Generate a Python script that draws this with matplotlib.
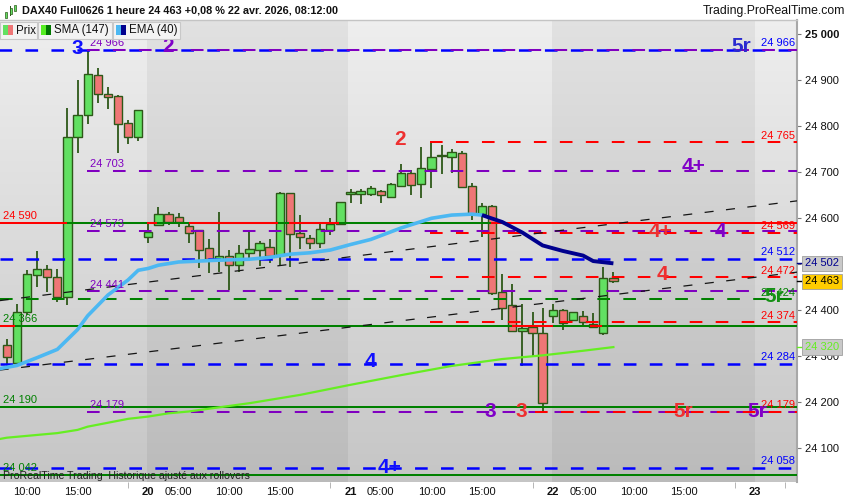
import numpy as np
import matplotlib.pyplot as plt
from matplotlib.patches import Rectangle
from matplotlib.transforms import blended_transform_factory

plt.rcParams['font.family'] = ['Liberation Sans', 'DejaVu Sans']
plt.rcParams['lines.scale_dashes'] = False

# DAX40 1h candles, 19 avr. 08:00 -> 22 avr. 08:00 (bar index 0..60)
opens = [24325, 24285, 24397, 24476, 24489, 24472, 24428, 24776, 24825, 24912, 24870, 24866, 24808, 24777,
         24559, 24585, 24609, 24602, 24583, 24574, 24535, 24509, 24518, 24498, 24525, 24531, 24538, 24520,
         24654, 24567, 24557, 24547, 24575, 24588,
         24652, 24652, 24652, 24659, 24647, 24671, 24698, 24674, 24708, 24735, 24733, 24743, 24670, 24609,
         24627, 24440, 24411, 24356, 24363, 24350,
         24388, 24401, 24379, 24388, 24363, 24351, 24471]
highs = [24337, 24414, 24488, 24529, 24498, 24489, 24839, 24901, 24966, 24926, 24885, 24868, 24814, 24836,
         24589, 24625, 24614, 24612, 24593, 24575, 24554, 24614, 24531, 24542, 24572, 24551, 24556, 24658,
         24656, 24607, 24564, 24593, 24601, 24635,
         24663, 24663, 24670, 24662, 24677, 24718, 24706, 24754, 24763, 24759, 24750, 24747, 24676, 24634,
         24629, 24479, 24457, 24413, 24397, 24404,
         24414, 24402, 24397, 24399, 24394, 24495, 24483]
lows = [24276, 24281, 24390, 24451, 24440, 24419, 24411, 24741, 24806, 24850, 24837, 24741, 24761, 24768,
        24547, 24585, 24585, 24582, 24547, 24491, 24480, 24484, 24444, 24484, 24509, 24496, 24502, 24498,
        24495, 24533, 24533, 24535, 24564, 24587,
        24634, 24630, 24648, 24634, 24647, 24670, 24651, 24645, 24665, 24696, 24699, 24666, 24596, 24560,
        24433, 24379, 24353, 24279, 24299, 24179,
        24372, 24357, 24378, 24363, 24361, 24346, 24460]
closes = [24299, 24397, 24478, 24489, 24472, 24428, 24776, 24825, 24914, 24870, 24863, 24806, 24776, 24835,
          24571, 24609, 24593, 24593, 24569, 24531, 24511, 24518, 24498, 24524, 24533, 24546, 24519, 24654,
          24565, 24559, 24547, 24576, 24587, 24635,
          24657, 24659, 24665, 24651, 24675, 24698, 24672, 24709, 24733, 24737, 24744, 24667, 24609, 24627,
          24438, 24404, 24354, 24361, 24350, 24199,
          24401, 24372, 24396, 24375, 24370, 24470, 24463]

# SMA(147) and EMA(40)
sma_bars = [-1, 0, 5, 7, 8, 12, 14, 16, 18, 24, 29, 34, 39, 44, 49, 53, 57, 60]
sma_vals = [24119, 24123, 24133, 24140, 24147, 24164, 24169, 24176, 24180, 24198, 24216, 24238, 24259,
            24279, 24294, 24302, 24312, 24320]
ema_bars = [-1, 0, 1, 3, 5, 7, 8, 10, 12, 13, 14, 15, 17, 21, 24, 26, 28, 30, 32, 34, 36, 39, 42, 44, 46,
            47, 49, 51, 53, 55, 57, 58, 60]
ema_vals = [24272, 24276, 24280, 24297, 24315, 24358, 24388, 24433, 24466, 24487, 24491, 24498, 24505,
            24509, 24511, 24515, 24522, 24525, 24531, 24543, 24554, 24579, 24600, 24607, 24609, 24607,
            24592, 24569, 24541, 24529, 24519, 24507, 24502]
ema_turn = 47

hour_ticks = [2, 7, 17, 22, 27, 37, 42, 47, 57, 62, 67]
hour_labels = ['10:00', '15:00', '05:00', '10:00', '15:00', '05:00', '10:00', '15:00', '05:00', '10:00', '15:00']
day_starts = [14, 34, 54, 74]
day_labels = ['20', '21', '22', '23']
minor_ticks = [12, 32, 52, 72, 77]
price_ticks = [24100, 24200, 24300, 24400, 24500, 24600, 24700, 24800, 24900, 25000]

# horizontal levels
lvl_price = [24966, 24966, 24765, 24703, 24590, 24590, 24573, 24569, 24512, 24472, 24441, 24424, 24374,
             24366, 24284, 24190, 24179, 24179, 24058, 24042]
lvl_color = ['blue', 'purple', 'red', 'purple', 'red', 'green', 'purple', 'red', 'blue', 'red', 'purple',
             'green', 'red', 'green', 'blue', 'green', 'purple', 'red', 'blue', 'green']
lvl_dashed = [True, True, True, True, False, False, True, True, True, True, True, True, True,
              False, True, False, True, True, True, False]
lvl_start = [-1.2, 7.94, 41.9, 7.94, -1, 6, 7.94, 41.9, -0.67, 41.9, 7.94, -0.67, 41.9,
             -1, -0.67, -1, 7.94, 52.2, -1.8, -1]
lvl_end = [80, 80, 80, 80, 80, 47.9, 80, 80, 80, 80, 80, 80, 80, 80, 80, 80, 80, 80, 80, 80]

red_seg_price = [24590, 24590, 24590, 24366, 24366, 24366]
red_seg_from = [13.9, 18.0, 27.9, -1, 50.0, 57.7]
red_seg_to = [14.9, 26.8, 32.9, 0.8, 54.0, 58.9]

# dashed trend channel
trend_bars = [-0.7, 78.2]
trend_up = [24421, 24638]
trend_low = [24270, 24483]

right_tag_price = [24966, 24765, 24569, 24512, 24472, 24424, 24374, 24284, 24179, 24058]
right_tag_color = ['blue', 'red', 'red', 'blue', 'red', 'green', 'red', 'blue', 'red', 'blue']
left_tag_price = [24590, 24366, 24190, 24042]
left_tag_color = ['red', 'green', 'green', 'green']
purple_tag_price = [24966, 24703, 24573, 24441, 24179]

wave_text = ['3', '2', '5r', '2', '4+', '4+', '4', '4', '5r', '4', '3', '3', '5r', '5r', '4+']
wave_bar = [7.0, 16.0, 72.6, 38.9, 67.9, 64.7, 70.6, 64.9, 75.9, 36.0, 47.8, 50.9, 66.9, 74.2, 37.9]
wave_price = [24969, 24974, 24974, 24772, 24713, 24572, 24572, 24477, 24429, 24288, 24181, 24181, 24181,
              24181, 24059]
wave_color = ['#1010ff', '#8000c8', '#2a2ad0', '#ee3030', '#8000c8', '#ee3030', '#8000c8', '#ee3030',
              '#159015', '#1010ff', '#8000c8', '#ee3030', '#ee3030', '#8000c8', '#1010ff']

last_ema = 24502
last_close = 24463
last_sma = 24320

COL = {'blue': '#0000ff', 'purple': '#8000c0', 'red': '#ff0000', 'green': '#008000'}
EDGE = '#2d5818'


def fmt(v):
    return f"{v:,}".replace(',', ' ')


def fx(px):
    return px / 850


def fy(py):
    return 1 - py / 500


fig = plt.figure(figsize=(8.5, 5), dpi=100)
ax = fig.add_axes([0, 18 / 500, 797 / 850, 462 / 500])
xmin, xmax = -0.67, 78.16
ymin, ymax = 24026.7, 25031.1

# background gradient + day bands
grad = np.linspace(0.935, 0.775, 200)
img = np.repeat(grad[:, None, None], 3, axis=2)
ax.imshow(img, extent=[xmin, xmax, ymin, ymax], aspect='auto', interpolation='bilinear', zorder=0)
ax.axvspan(13.87, 33.75, facecolor='black', alpha=0.05, lw=0, zorder=0.5)
ax.axvspan(53.93, 74.0, facecolor='black', alpha=0.05, lw=0, zorder=0.5)

# candles
for i, (o, h, l, c) in enumerate(zip(opens, highs, lows, closes)):
    up = c >= o
    ax.vlines(i, l, h, color=EDGE, lw=1.3, zorder=2)
    ax.add_patch(Rectangle((i - 0.41, min(o, c)), 0.82, max(abs(c - o), 1.5),
                           facecolor='#62e062' if up else '#ef7676', edgecolor=EDGE, lw=1.0, zorder=2.2))

# levels
for p, col, dsh, s, e in zip(lvl_price, lvl_color, lvl_dashed, lvl_start, lvl_end):
    kw = dict(color=COL[col], lw=1.8 if col == 'blue' else 1.45, zorder=3, solid_capstyle='butt')
    if dsh:
        kw['dashes'] = (9.1, 9.6)
    ax.plot([s, e], [p, p], **kw)
for p, s, e in zip(red_seg_price, red_seg_from, red_seg_to):
    ax.plot([s, e], [p, p], color=COL['red'], lw=1.45, zorder=3.1, solid_capstyle='butt')

ax.plot(trend_bars, trend_up, color='#151515', lw=0.9, dashes=(6.5, 9), zorder=3.5)
ax.plot(trend_bars, trend_low, color='#151515', lw=0.9, dashes=(6.5, 9), zorder=3.5)

# moving averages
ax.plot(sma_bars, sma_vals, color='#66ee22', lw=1.6, zorder=3.6)
k = ema_bars.index(ema_turn)
ax.plot(ema_bars[:k + 1], ema_vals[:k + 1], color='#4cb8f2', lw=2.6, zorder=3.7, solid_capstyle='round')
ax.plot(ema_bars[k:], ema_vals[k:], color='#00008e', lw=2.8, zorder=3.7, solid_capstyle='butt')

# level tags
tr = blended_transform_factory(ax.transAxes, ax.transData)
for p, col in zip(right_tag_price, right_tag_color):
    ax.annotate(fmt(p), xy=(795 / 797, p), xycoords=tr, xytext=(0, 2.5), textcoords='offset points',
                ha='right', va='baseline', fontsize=8, color=COL[col], zorder=5)
for p, col in zip(left_tag_price, left_tag_color):
    ax.annotate(fmt(p), xy=(3 / 797, p), xycoords=tr, xytext=(0, 2.5), textcoords='offset points',
                ha='left', va='baseline', fontsize=8, color=COL[col], zorder=5)
for p in purple_tag_price:
    ax.annotate(fmt(p), xy=(8.2, p), xytext=(0, 2.5), textcoords='offset points',
                ha='left', va='baseline', fontsize=8, color=COL['purple'], zorder=5)

for t, b, p, c in zip(wave_text, wave_bar, wave_price, wave_color):
    ax.text(b, p, t, ha='center', va='center', fontsize=15, fontweight='bold', color=c, zorder=6)

ax.text(3 / 797, 0.012, 'ProRealTime Trading  Historique ajusté aux rollovers', transform=ax.transAxes,
        ha='left', va='center', fontsize=7.6, color='#202020', zorder=6)

ax.set_xlim(xmin, xmax)
ax.set_ylim(ymin, ymax)

# axes
ax.yaxis.tick_right()
ax.set_yticks(price_ticks, [fmt(p) for p in price_ticks])
ax.tick_params(axis='y', length=3, color='#777777', pad=3, labelsize=8, labelcolor='#111111')
ax.get_yticklabels()[-1].set_fontweight('bold')
ax.set_xticks(hour_ticks + day_starts, hour_labels + day_labels)
for lab in ax.get_xticklabels()[len(hour_ticks):]:
    lab.set_fontweight('bold')
    lab.set_fontsize(9.5)
ax.tick_params(axis='x', which='major', length=0, pad=3.5, labelsize=8, labelcolor='#111111')
ax.set_xticks(minor_ticks, minor=True)
ax.tick_params(axis='x', which='minor', length=4, color='#aaaaaa')
for s in ['left', 'bottom']:
    ax.spines[s].set_visible(False)
ax.spines['top'].set_color('#c4c4c4')
ax.spines['top'].set_linewidth(1)
ax.spines['right'].set_color('#a8a8a8')
ax.spines['right'].set_linewidth(1.5)

# last-value boxes on the price axis
for val, fg, bg in [(last_ema, '#00008e', '#c9c9c9'), (last_close, '#000000', '#ffcc00'),
                    (last_sma, '#66ee22', '#c9c9c9')]:
    ax.plot([1.0, 1.007], [val, val], transform=tr, clip_on=False, color=fg, lw=1, zorder=6)
    ax.text(805 / 797, val, fmt(val), transform=tr, ha='left', va='center', fontsize=8, color=fg,
            bbox=dict(boxstyle='square,pad=0.25', fc=bg, ec='#a0a0a0', lw=0.6), clip_on=False, zorder=7)

# header
fig.text(fx(22), fy(10.5), 'DAX40 Full0626 1 heure 24 463 +0,08 % 22 avr. 2026, 08:12:00',
         fontsize=7.8, fontweight='bold', va='center', ha='left', color='#111111')
fig.text(fx(845), fy(11), 'Trading.ProRealTime.com', fontsize=8.8, va='center', ha='right', color='#111111')
for x0, y0, hgt in [(5, 12, 6), (9.5, 8, 6), (14, 5, 6)]:
    fig.add_artist(Rectangle((fx(x0 + 0.8), fy(y0 + hgt + 2)), 0.6 / 850, (hgt + 4) / 500,
                             transform=fig.transFigure, fc=EDGE, ec='none'))
    fig.add_artist(Rectangle((fx(x0), fy(y0 + hgt)), 2.2 / 850, hgt / 500, transform=fig.transFigure,
                             fc='#62e062', ec=EDGE, lw=0.5))

# legend boxes
legend_items = [('Prix', 0, 37, '#62e062', '#ef7676'), ('SMA (147)', 38, 112, '#55ee22', '#007700'),
                ('EMA (40)', 113, 180, '#4cb8f2', '#00008e')]
for name, x0, x1, c1, c2 in legend_items:
    fig.add_artist(Rectangle((fx(x0), fy(39)), (x1 - x0) / 850, 17 / 500, transform=fig.transFigure,
                             fc='#f3f3f3', ec='#c8c8c8', lw=0.8))
    fig.add_artist(Rectangle((fx(x0 + 3), fy(35)), 5 / 850, 10 / 500, transform=fig.transFigure,
                             fc=c1, ec='none'))
    fig.add_artist(Rectangle((fx(x0 + 8), fy(35)), 5 / 850, 10 / 500, transform=fig.transFigure,
                             fc=c2, ec='none'))
    fig.text(fx(x0 + 16), fy(30.5), name, fontsize=8.3, va='center', ha='left', color='#111111')

fig.savefig('out.png', dpi=100)
